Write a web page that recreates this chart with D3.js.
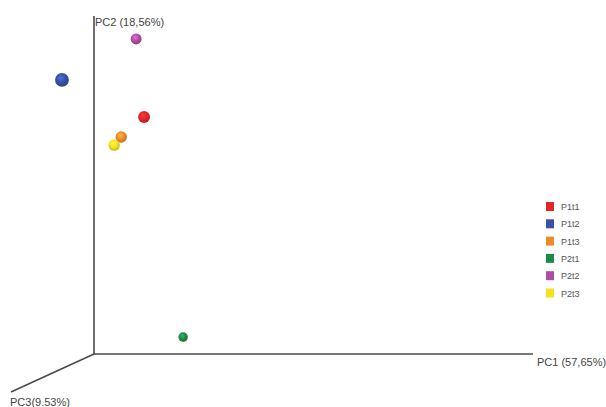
<!DOCTYPE html>
<html>
<head>
<meta charset="utf-8">
<script src="https://cdn.jsdelivr.net/npm/d3@7"></script>
<style>
  html, body { margin: 0; padding: 0; background: #fff; }
  svg { display: block; }
  text { font-family: "Liberation Sans", Arial, sans-serif; }
</style>
</head>
<body>
<svg id="chart" width="606" height="407"></svg>
<script>
// Samples and their projected PCoA coordinates
const samples = ["P1t1", "P1t2", "P1t3", "P2t1", "P2t2", "P2t3"];
const colors  = ["#e0262b", "#3b51a3", "#ef8a2a", "#1f8a47", "#ad4ea3", "#f7e021"];
const pc1     = [0.114, -0.073, 0.062, 0.203, 0.096, 0.046];
const pc2     = [0.701, 0.811, 0.642, 0.050, 0.932, 0.618];
const pc3     = [0.60, 1.00, 0.50, 0.10, 0.40, 0.50];   // depth, shown as marker size
const axisLabels = ["PC1 (57,65%)", "PC2 (18,56%)", "PC3(9.53%)"];

const svg = d3.select("#chart");
const origin = { x: 94, y: 354 };

const x = d3.scaleLinear().domain([0, 1]).range([origin.x, 533]);
const y = d3.scaleLinear().domain([0, 1]).range([origin.y, 16]);
const r = d3.scaleLinear().domain([0, 1]).range([4.5, 6.9]);

// Sphere shading for each sample colour
const defs = svg.append("defs");
samples.forEach((s, i) => {
  const g = defs.append("radialGradient")
    .attr("id", "ball-" + s)
    .attr("cx", "45%").attr("cy", "40%").attr("r", "60%")
    .attr("fx", "40%").attr("fy", "35%");
  const c = d3.color(colors[i]);
  g.append("stop").attr("offset", "0%").attr("stop-color", c.brighter(0.9));
  g.append("stop").attr("offset", "55%").attr("stop-color", c);
  g.append("stop").attr("offset", "100%").attr("stop-color", c.darker(0.6));
});

// Axes
const axisColor = "#4a4a4a";
svg.append("line")
  .attr("x1", origin.x).attr("y1", origin.y)
  .attr("x2", origin.x).attr("y2", y(1))
  .attr("stroke", axisColor).attr("stroke-width", 1.6);
svg.append("line")
  .attr("x1", origin.x).attr("y1", origin.y)
  .attr("x2", x(1)).attr("y2", origin.y)
  .attr("stroke", axisColor).attr("stroke-width", 1.6);
svg.append("line")
  .attr("x1", origin.x).attr("y1", origin.y)
  .attr("x2", 11).attr("y2", 392)
  .attr("stroke", axisColor).attr("stroke-width", 1.6);

svg.append("text").attr("x", x(1) + 4).attr("y", origin.y + 12)
  .attr("font-size", 11).attr("fill", "#444").text(axisLabels[0]);
svg.append("text").attr("x", origin.x + 1).attr("y", y(1) + 10)
  .attr("font-size", 11).attr("fill", "#444").text(axisLabels[1]);
svg.append("text").attr("x", 10).attr("y", 406)
  .attr("font-size", 11).attr("fill", "#444").text(axisLabels[2]);

// Sample markers
const idx = d3.range(samples.length).sort((a, b) => pc3[a] - pc3[b]);
svg.append("g").selectAll("circle")
  .data(idx)
  .join("circle")
  .attr("cx", i => x(pc1[i]))
  .attr("cy", i => y(pc2[i]))
  .attr("r", i => r(pc3[i]))
  .attr("fill", i => "url(#ball-" + samples[i] + ")");

// Legend
const legend = svg.append("g").attr("transform", "translate(546,202)");
const item = legend.selectAll("g").data(samples).join("g")
  .attr("transform", (d, i) => `translate(0,${i * 17.3})`);
item.append("rect").attr("width", 8).attr("height", 9)
  .attr("fill", (d, i) => colors[i]);
item.append("text").attr("x", 15).attr("y", 8)
  .attr("font-size", 9).attr("fill", "#555").text(d => d);
</script>
</body>
</html>
